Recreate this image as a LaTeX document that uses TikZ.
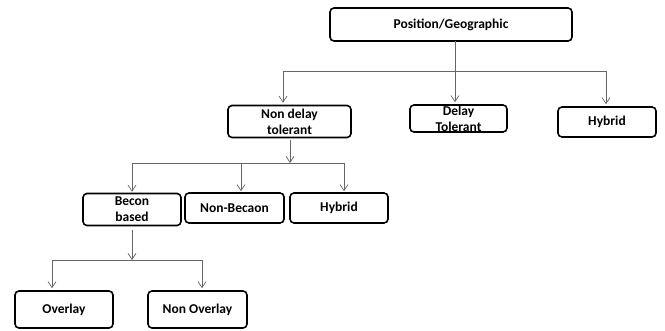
\documentclass[tikz,border=0pt]{standalone}
\usepackage{fontspec}
\setmainfont{Carlito}
\usetikzlibrary{arrows.meta}
\begin{document}
\begin{tikzpicture}[x=1pt,y=-1pt,
  box/.style={draw=black,line width=1.6pt,rounded corners=4pt,align=center,inner sep=0pt,
    font=\fontsize{13.5}{16}\selectfont\bfseries},
  conn/.style={draw=black!60,line width=0.8pt},
  arr/.style={conn,-{Straight Barb[length=6pt,width=8pt,line width=0.7pt]}}]
\useasboundingbox[fill=white] (0,0) rectangle (665,330);
% boxes
\node[box,minimum width=242pt,minimum height=33pt] (pos) at (451,24.5) {Position/Geographic};
\node[box,minimum width=123pt,minimum height=32pt] (ndt) at (289.5,121.5) {Non delay\\tolerant};
\node[box,minimum width=97pt,minimum height=27pt] (dt) at (458.5,118.5) {Delay\\Tolerant};
\node[box,minimum width=98pt,minimum height=30pt] (hyb1) at (607,122) {Hybrid};
\node[box,minimum width=98pt,minimum height=32pt] (bb) at (132,209.5) {Becon\\based};
\node[box,minimum width=99pt,minimum height=30pt] (nb) at (234.5,208) {Non-Becaon};
\node[box,minimum width=98pt,minimum height=30pt] (hyb2) at (339,208) {Hybrid};
\node[box,minimum width=98pt,minimum height=37pt] (ov) at (64,309.5) {Overlay};
\node[box,minimum width=99pt,minimum height=37pt] (nov) at (197.5,309.5) {Non Overlay};
% bus 1
\coordinate (p1) at (455,41);
\coordinate (a1) at (283,71);
\coordinate (b1) at (606,71);
\draw[conn] (a1) -- (b1);
\draw[arr,shorten >=2pt] (p1) -- (p1 |- dt.north);
\draw[arr,shorten >=2pt] (a1) -- (a1 |- ndt.north);
\draw[arr,shorten >=2pt] (b1) -- (b1 |- hyb1.north);
% bus 2
\coordinate (p2) at (290,140);
\coordinate (a2) at (132,163);
\coordinate (m2) at (241,163);
\coordinate (b2) at (344,163);
\draw[conn] (a2) -- (b2);
\draw[arr] (p2) -- (p2 |- a2);
\draw[arr,shorten >=1pt] (a2) -- (a2 |- bb.north);
\draw[arr,shorten >=1pt] (m2) -- (m2 |- nb.north);
\draw[arr,shorten >=1pt] (b2) -- (b2 |- hyb2.north);
% bus 3
\coordinate (p3) at (132,230);
\coordinate (a3) at (52,260);
\coordinate (b3) at (202,260);
\draw[conn] (a3) -- (b3);
\draw[arr] (p3) -- (p3 |- a3);
\draw[arr,shorten >=2pt] (a3) -- (a3 |- ov.north);
\draw[arr,shorten >=2pt] (b3) -- (b3 |- nov.north);
\end{tikzpicture}
\end{document}
